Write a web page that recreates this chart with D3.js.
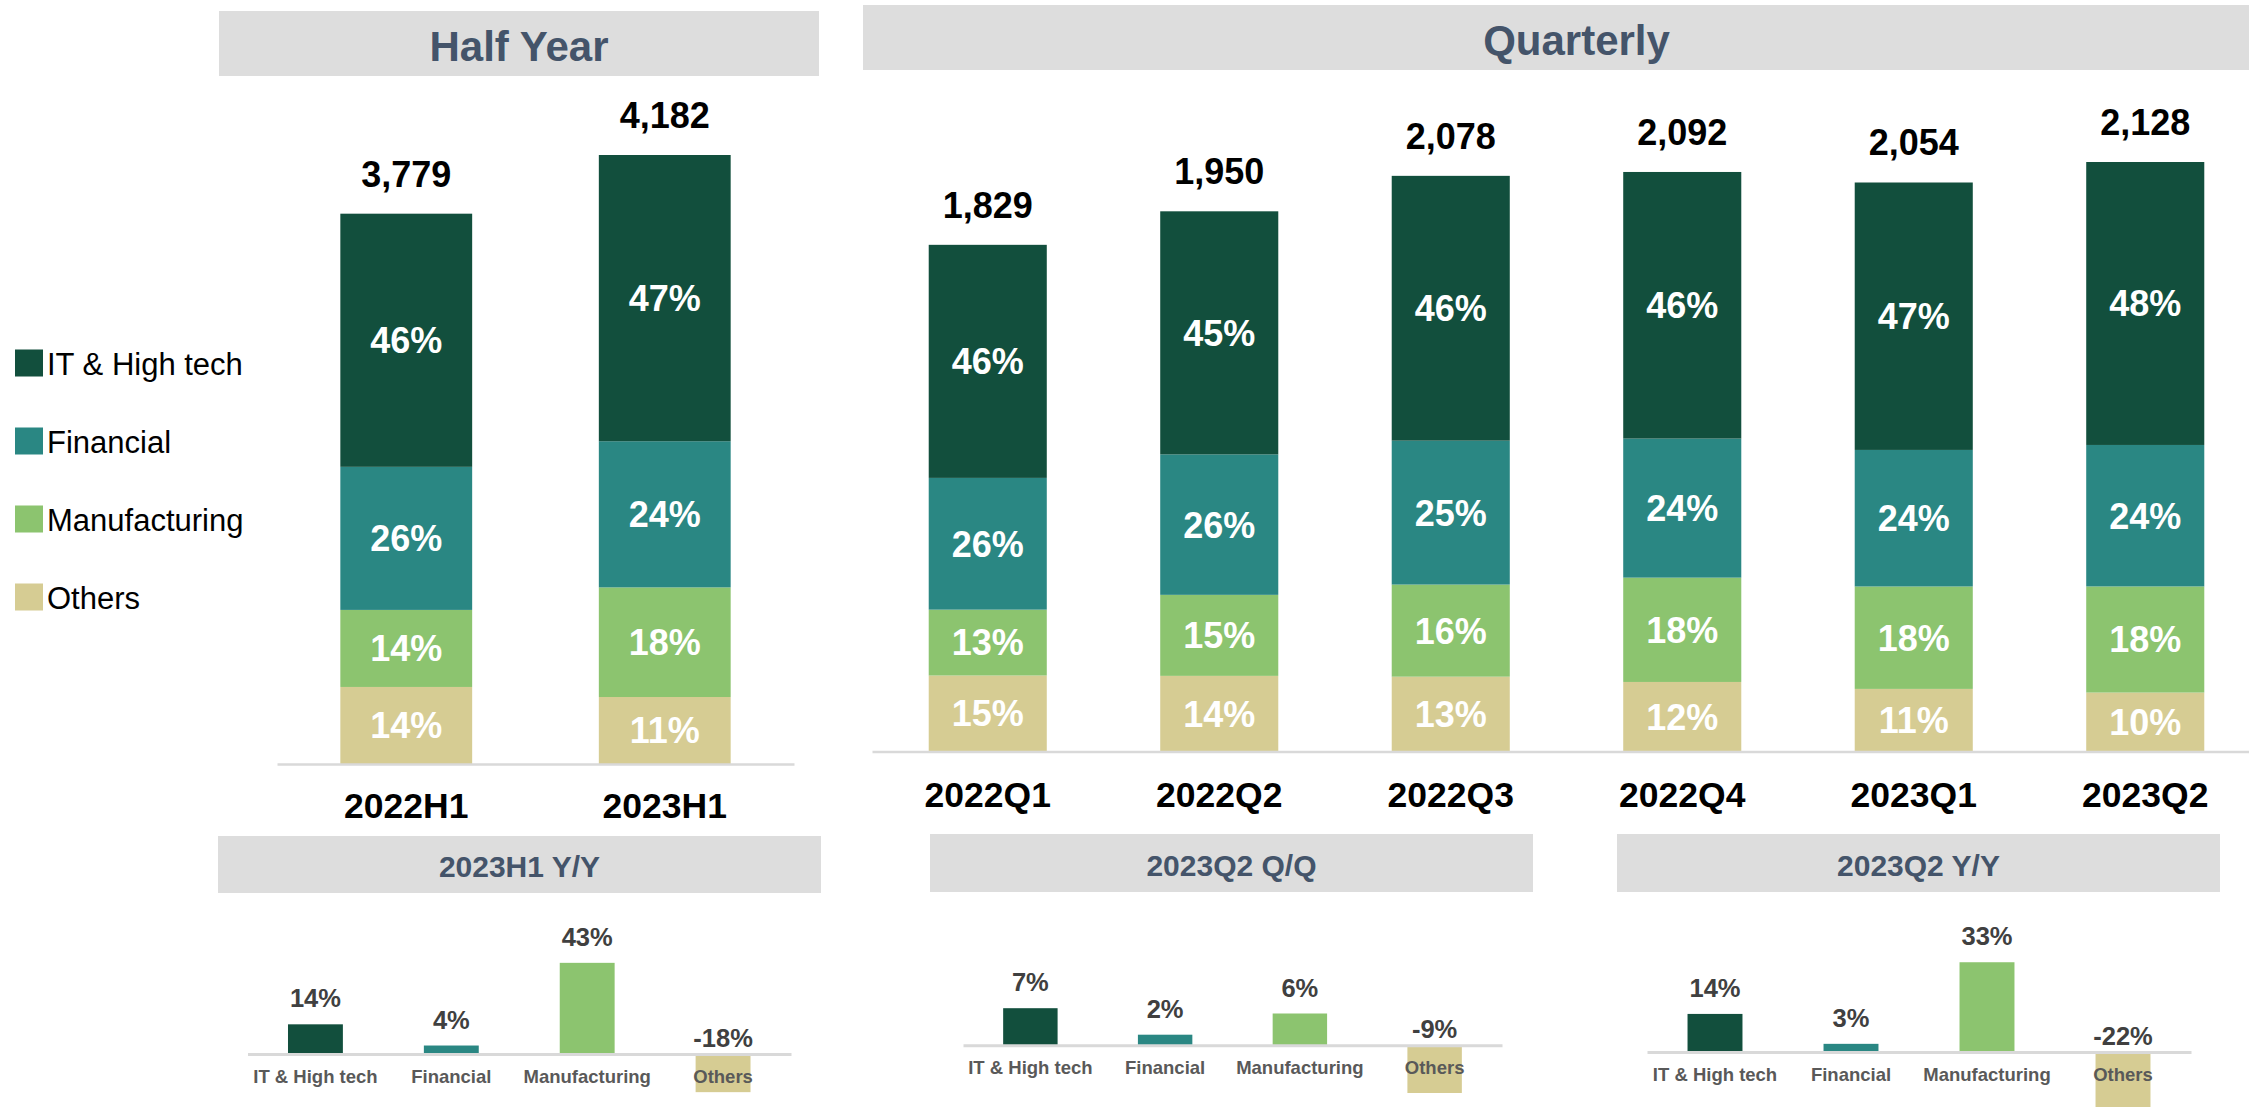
<!DOCTYPE html>
<meta charset="utf-8">
<body style="margin:0;background-color:white;">
<svg width="2249" height="1107"></svg>
<script src="https://d3js.org/d3.v7.min.js"></script>
<script>

// sectors, top of the stack first
var sectors = ["IT & High tech", "Financial", "Manufacturing", "Others"];
var sectorColors = ["#124f3d", "#2a8783", "#8cc46f", "#d6cc93"];

var halfCats = ["2022H1", "2023H1"];
var halfTotals = [3779, 4182];
var halfIT = [46, 47];
var halfFin = [26, 24];
var halfManu = [14, 18];
var halfOther = [14, 11];

var quarterCats = ["2022Q1", "2022Q2", "2022Q3", "2022Q4", "2023Q1", "2023Q2"];
var quarterTotals = [1829, 1950, 2078, 2092, 2054, 2128];
var quarterIT = [46, 45, 46, 46, 47, 48];
var quarterFin = [26, 26, 25, 24, 24, 24];
var quarterManu = [13, 15, 16, 18, 18, 18];
var quarterOther = [15, 14, 13, 12, 11, 10];

var h1YoY = [14, 4, 43, -18];
var q2QoQ = [7, 2, 6, -9];
var q2YoY = [14, 3, 33, -22];

var font = "'Liberation Sans', Arial, sans-serif";
var svgContainer = d3.select("svg");

function header(x0, x1, y0, y1, baseline, label, size) {
	svgContainer.append('rect')
				.attr('x', x0).attr('y', y0)
				.attr('width', x1 - x0).attr('height', y1 - y0)
				.attr('fill', '#dddddd');
	svgContainer.append('text')
				.attr('x', (x0 + x1) / 2)
				.attr('y', baseline)
				.attr('text-anchor', 'middle')
				.attr('font-family', font)
				.attr('font-size', size)
				.attr('font-weight', 'bold')
				.attr('fill', '#44546a')
				.text(label);
}

function drawStack(cats, totals, shares, left, right, base, top, padding) {
	var x = d3.scaleBand().domain(cats).range([left, right])
			  .paddingInner(0.49).paddingOuter(0.245);
	var y = d3.scaleLinear().domain([0, d3.max(totals)]).range([base, top]);

	var rows = cats.map(function(c, i) {
		var row = {cat: c, total: totals[i]};
		sectors.forEach(function(s, j) {
			row[s] = totals[i] * shares[j][i] / 100;
			row[s + '_pct'] = shares[j][i];
		});
		return row;
	});

	var keys = sectors.slice().reverse();   // Others at the bottom
	var series = d3.stack().keys(keys)(rows);

	var g = svgContainer.append('g');
	series.forEach(function(layer) {
		var color = sectorColors[sectors.indexOf(layer.key)];
		layer.forEach(function(d) {
			g.append('rect')
			 .attr('x', x(d.data.cat))
			 .attr('y', y(d[1]))
			 .attr('width', x.bandwidth())
			 .attr('height', y(d[0]) - y(d[1]))
			 .attr('fill', color);
			g.append('text')
			 .attr('x', x(d.data.cat) + x.bandwidth() / 2)
			 .attr('y', (y(d[0]) + y(d[1])) / 2 + 12.9)
			 .attr('text-anchor', 'middle')
			 .attr('font-family', font)
			 .attr('font-size', 36)
			 .attr('font-weight', 'bold')
			 .attr('fill', 'white')
			 .text(d.data[layer.key + '_pct'] + '%');
		});
	});

	// totals above bars
	g.selectAll('.total').data(rows).enter().append('text')
	 .attr('x', function(d) { return x(d.cat) + x.bandwidth() / 2; })
	 .attr('y', function(d) { return y(d.total) - 27; })
	 .attr('text-anchor', 'middle')
	 .attr('font-family', font)
	 .attr('font-size', 36)
	 .attr('font-weight', 'bold')
	 .attr('fill', 'black')
	 .text(function(d) { return d3.format(',')(d.total); });

	var axis = svgContainer.append('g')
						   .attr('transform', 'translate(0,' + base + ')')
						   .call(d3.axisBottom(x).tickSize(0).tickSizeOuter(0).tickPadding(padding));
	axis.select('.domain').attr('stroke', '#d9d9d9').attr('stroke-width', 2.5);
	axis.selectAll('text')
		.attr('font-family', font)
		.attr('font-size', 35.5)
		.attr('font-weight', 'bold')
		.attr('fill', 'black');
}

function drawGrowth(values, left, right, zeroY, pxPerPct) {
	var x = d3.scaleBand().domain(sectors).range([left, right])
			  .paddingInner(0.596).paddingOuter(0.298);
	var lo = d3.min(values), hi = d3.max(values);
	var y = d3.scaleLinear().domain([lo, hi]).range([zeroY - lo * pxPerPct, zeroY - hi * pxPerPct]);

	var g = svgContainer.append('g');
	values.forEach(function(v, i) {
		g.append('rect')
		 .attr('x', x(sectors[i]))
		 .attr('y', Math.min(y(v), y(0)))
		 .attr('width', x.bandwidth())
		 .attr('height', Math.abs(y(0) - y(v)))
		 .attr('fill', sectorColors[i]);
		g.append('text')
		 .attr('x', x(sectors[i]) + x.bandwidth() / 2)
		 .attr('y', v >= 0 ? y(v) - 17 : y(0) - 7)
		 .attr('text-anchor', 'middle')
		 .attr('font-family', font)
		 .attr('font-size', 25.5)
		 .attr('font-weight', 'bold')
		 .attr('fill', '#404040')
		 .text(v + '%');
	});

	var axis = svgContainer.append('g')
						   .attr('transform', 'translate(0,' + zeroY + ')')
						   .call(d3.axisBottom(x).tickSize(0).tickSizeOuter(0).tickPadding(15.5));
	axis.select('.domain').attr('stroke', '#d9d9d9').attr('stroke-width', 3);
	axis.selectAll('text')
		.attr('font-family', font)
		.attr('font-size', 18.5)
		.attr('font-weight', 'bold')
		.attr('fill', '#595959');
}

// headers
header(219, 819, 11, 76, 60.5, 'Half Year', 42);
header(863, 2290, 5, 70, 55, 'Quarterly', 42);
header(218, 821, 836, 893, 877, '2023H1 Y/Y', 30);
header(930, 1533, 834, 892, 876, '2023Q2 Q/Q', 30);
header(1617, 2220, 834, 892, 876, '2023Q2 Y/Y', 30);

// legend
var legendY = [363, 441, 519, 597];
sectors.forEach(function(s, i) {
	svgContainer.append('rect')
				.attr('x', 15).attr('y', legendY[i] - 13.5)
				.attr('width', 28).attr('height', 27)
				.attr('fill', sectorColors[i]);
	svgContainer.append('text')
				.attr('x', 47).attr('y', legendY[i] + 12)
				.attr('font-family', font)
				.attr('font-size', 31)
				.attr('fill', 'black')
				.text(s);
});

drawStack(halfCats, halfTotals, [halfIT, halfFin, halfManu, halfOther], 277, 794, 764, 155, 29);
drawStack(quarterCats, quarterTotals, [quarterIT, quarterFin, quarterManu, quarterOther], 872, 2261, 751.5, 162, 30.5);

drawGrowth(h1YoY, 247.5, 791, 1054, 2.12);
drawGrowth(q2QoQ, 963, 1502, 1045.3, 5.3);
drawGrowth(q2YoY, 1647, 2191, 1052, 2.72);

</script>
</body>
